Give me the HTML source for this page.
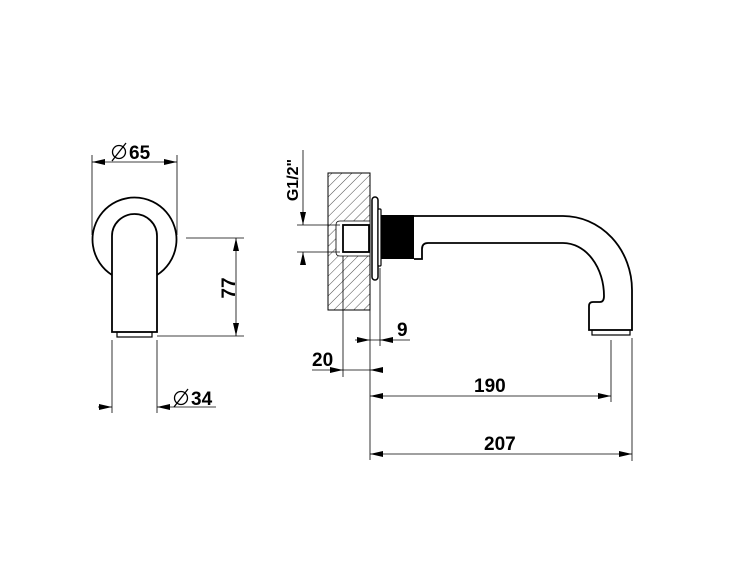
<!DOCTYPE html>
<html><head><meta charset="utf-8"><style>
html,body{margin:0;padding:0;background:#fff;}
svg{display:block;}
text{font-family:"Liberation Sans",Arial,sans-serif;font-weight:bold;fill:#000;}
</style></head><body>
<svg width="750" height="563" viewBox="0 0 750 563" xmlns="http://www.w3.org/2000/svg">
<defs>
<pattern id="h" patternUnits="userSpaceOnUse" width="7" height="7" patternTransform="rotate(45)">
<line x1="0" y1="0" x2="0" y2="7" stroke="#000" stroke-width="0.7"/>
</pattern>
</defs>
<g stroke="#000" fill="none">
<path d="M112,275 A42,42 0 1 1 157,275" stroke-width="1.8"/>
<path d="M112,332 L112,236 A22.5,22 0 0 1 157,236 L157,332 Z" stroke-width="1.8" fill="#fff"/>
<rect x="117" y="332" width="35" height="5" stroke-width="1.2"/>
<g stroke-width="0.8">
<line x1="92" y1="155" x2="92" y2="235"/>
<line x1="177" y1="155" x2="177" y2="235"/>
<line x1="92" y1="162" x2="177" y2="162"/>
<line x1="186" y1="238" x2="244" y2="238"/>
<line x1="157" y1="336" x2="244" y2="336"/>
<line x1="236" y1="238" x2="236" y2="336"/>
<line x1="112" y1="340" x2="112" y2="413"/>
<line x1="157" y1="340" x2="157" y2="413"/>
<line x1="98" y1="407" x2="112" y2="407"/>
<line x1="157" y1="407" x2="216" y2="407"/>
</g>
<rect x="328" y="173" width="42" height="137" fill="url(#h)" stroke-width="1"/>
<path d="M370,221 L340,221 Q336,221 336,225 L336,252 Q336,256 340,256 L370,256 Z" fill="#fff" stroke-width="0.8"/>
<rect x="343" y="225" width="26" height="27" fill="#fff" stroke-width="1.8"/>
<rect x="372" y="197" width="6" height="83" rx="3" fill="#fff" stroke-width="1.5"/>
<rect x="378" y="209" width="3" height="57" rx="1" fill="#fff" stroke-width="1.2"/>
<rect x="381" y="215" width="33" height="44" fill="#000" stroke-width="0"/>
<path d="M414,216 L563,216 A69,74 0 0 1 632,290 L632,330 L589,330 L589,306 Q589,302 593,302 L600,302 Q604,302 604,296 A41,53 0 0 0 563,243 L428,243 Q422,243 422,249 L422,259 L414,259" stroke-width="1.8" fill="#fff"/>
<rect x="592" y="330" width="38" height="5" stroke-width="1.2"/>
<g stroke-width="0.8">
<line x1="297" y1="225" x2="340" y2="225"/>
<line x1="297" y1="252" x2="340" y2="252"/>
<line x1="303" y1="150" x2="303" y2="225"/>
<line x1="303" y1="264" x2="303" y2="252"/>
<line x1="343" y1="256" x2="343" y2="377"/>
<line x1="370" y1="300" x2="370" y2="460"/>
<line x1="380" y1="268" x2="380" y2="346"/>
<line x1="355" y1="340" x2="410" y2="340"/>
<line x1="312" y1="370" x2="383" y2="370"/>
<line x1="611" y1="340" x2="611" y2="402"/>
<line x1="632" y1="338" x2="632" y2="461"/>
<line x1="370" y1="396" x2="611" y2="396"/>
<line x1="370" y1="454" x2="632" y2="454"/>
</g>
<circle cx="119" cy="152" r="6.5" stroke-width="1.3"/>
<line x1="112" y1="161" x2="126" y2="143" stroke-width="1.3"/>
<circle cx="181" cy="398" r="6.5" stroke-width="1.3"/>
<line x1="174" y1="407" x2="188" y2="389" stroke-width="1.3"/>
</g>
<g fill="#000">
<polygon points="92,162 105,159 105,165"/>
<polygon points="177,162 164,159 164,165"/>
<polygon points="236,238 233,251 239,251"/>
<polygon points="236,336 233,323 239,323"/>
<polygon points="112,407 99,404 99,410"/>
<polygon points="157,407 170,404 170,410"/>
<polygon points="303,225 300,212 306,212"/>
<polygon points="303,252 300,265 306,265"/>
<polygon points="370,340 357,337 357,343"/>
<polygon points="380,340 393,337 393,343"/>
<polygon points="343,370 330,367 330,373"/>
<polygon points="370,370 383,367 383,373"/>
<polygon points="370,396 383,393 383,399"/>
<polygon points="611,396 598,393 598,399"/>
<polygon points="370,454 383,451 383,457"/>
<polygon points="632,454 619,451 619,457"/>
</g>
<text x="129" y="159" font-size="19">65</text>
<text x="191" y="405" font-size="19">34</text>
<text transform="translate(235,288) rotate(-90)" font-size="19" text-anchor="middle">77</text>
<text transform="translate(298,180) rotate(-90)" font-size="16" text-anchor="middle">G1/2"</text>
<text x="397" y="336" font-size="19">9</text>
<text x="312" y="366" font-size="19">20</text>
<text x="474" y="392" font-size="19">190</text>
<text x="484" y="450" font-size="19">207</text>
</svg>
</body></html>
